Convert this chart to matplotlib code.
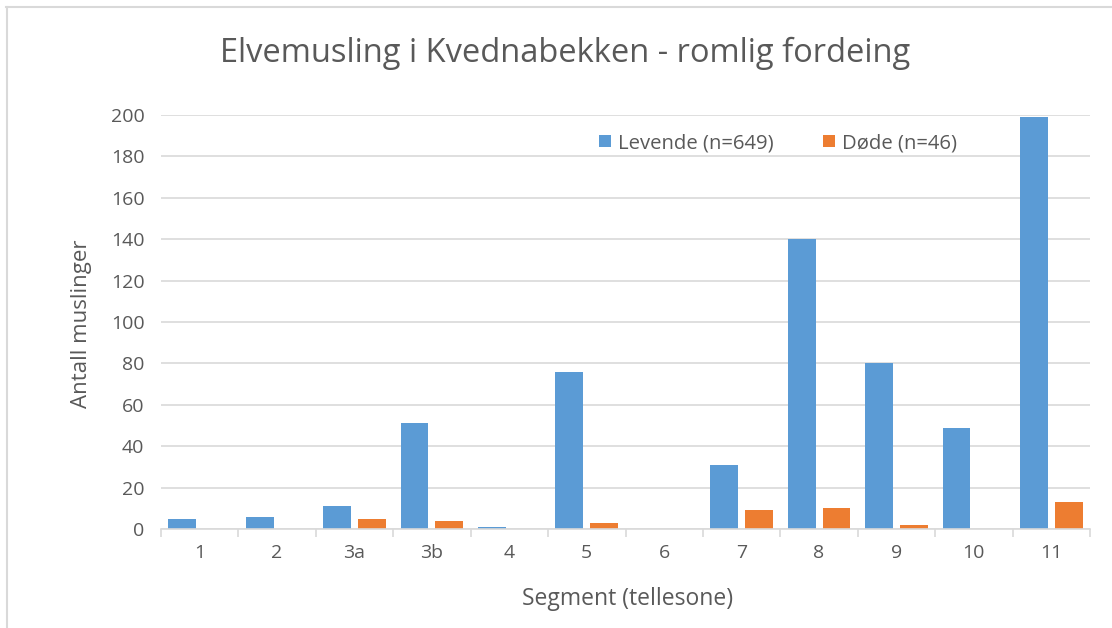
import matplotlib
matplotlib.use("Agg")
import matplotlib.pyplot as plt
from matplotlib.lines import Line2D
import numpy as np

categories = ["1", "2", "3a", "3b", "4", "5", "6", "7", "8", "9", "10", "11"]
levende = [5, 6, 11, 51, 1, 76, 0, 31, 140, 80, 49, 199]
dode = [0, 0, 5, 4, 0, 3, 0, 9, 10, 2, 0, 13]
yticks = [0, 20, 40, 60, 80, 100, 120, 140, 160, 180, 200]

plt.rcParams['font.family'] = ['Open Sans', 'DejaVu Sans']
txt = '#595959'
W, H = 1112, 628
fig = plt.figure(figsize=(W/100, H/100), dpi=100)
ax = fig.add_axes([161/W, 1-529/H, (1090-161)/W, (529-115)/H])

x = np.arange(len(categories))
bw = 0.36
ax.bar(x - 0.225, levende, width=bw, color='#5b9bd5', label='Levende (n=649)', zorder=3)
ax.bar(x + 0.225, dode, width=bw, color='#ed7d31', label='Døde (n=46)', zorder=3)

ax.set_xlim(-0.5, len(categories) - 0.5)
ax.set_ylim(0, 200)
ax.set_yticks(yticks)
ax.yaxis.grid(True, color='#d9d9d9', linewidth=1.2, zorder=0)
ax.set_xticks(x)
ax.set_xticklabels(categories)
ax.set_xticks(np.arange(-0.5, len(categories)), minor=True)
ax.tick_params(axis='x', which='major', length=0, pad=11, labelsize=14, colors=txt)
ax.tick_params(axis='x', which='minor', length=6, width=1.2, color='#d9d9d9')
ax.tick_params(axis='y', length=0, pad=12, labelsize=14, colors=txt)
for s in ['top', 'right', 'left']:
    ax.spines[s].set_visible(False)
ax.spines['bottom'].set_color('#d9d9d9')
ax.spines['bottom'].set_linewidth(1.2)
ax.spines['bottom'].set_zorder(4)

ax.set_xlabel('Segment (tellesone)', fontsize=16.5, color=txt)
ax.xaxis.set_label_coords(628/W, 1-587/H, transform=fig.transFigure)
ax.set_ylabel('Antall muslinger', fontsize=16, color=txt)
ax.yaxis.set_label_coords(92/W, 1-324/H, transform=fig.transFigure)
fig.text(565/W, 1-53/H, 'Elvemusling i Kvednabekken - romlig fordeing', fontsize=23.5,
         color=txt, ha='center', va='center')

leg = ax.legend(loc='upper left', bbox_to_anchor=(589/W, 1-123/H), bbox_transform=fig.transFigure,
                ncol=2, frameon=False, fontsize=14.6, handlelength=0.6, handleheight=0.6,
                columnspacing=2.4, handletextpad=0.35, borderpad=0)
for t in leg.get_texts():
    t.set_color(txt)

fig.add_artist(Line2D([6/W, 1], [1-7/H, 1-7/H], color='#d9d9d9', linewidth=1.5, transform=fig.transFigure))
fig.add_artist(Line2D([7/W, 7/W], [0, 1-7/H], color='#d9d9d9', linewidth=1.5, transform=fig.transFigure))

fig.savefig('out.png', dpi=100, facecolor='white')
